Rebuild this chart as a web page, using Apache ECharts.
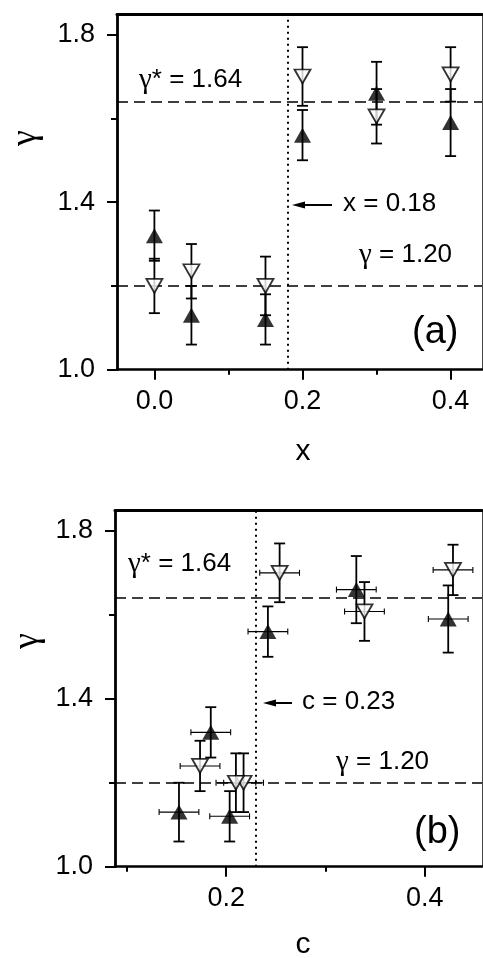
<!DOCTYPE html>
<html>
<head>
<meta charset="utf-8">
<script src="https://cdn.jsdelivr.net/npm/echarts@6/dist/echarts.min.js"></script>
<style>
  html, body { margin: 0; padding: 0; background: #fff; }
  #chart { width: 483px; height: 958px; }
</style>
</head>
<body>
<div id="chart"></div>
<script>
// ---- panel (a): gamma versus x ----
const xValues      = [0, 0.05, 0.15, 0.2, 0.3, 0.4];
const gammaFilledA = [1.32, 1.13, 1.12, 1.56, 1.66, 1.59];
const errFilledA   = [0.06, 0.07, 0.06, 0.06, 0.075, 0.08];
const gammaOpenA   = [1.20, 1.235, 1.20, 1.70, 1.605, 1.705];
const errOpenA     = [0.065, 0.065, 0.07, 0.07, 0.065, 0.065];

// ---- panel (b): gamma versus c ----
const cFilled      = [0.1845, 0.1525, 0.2035, 0.242, 0.331, 0.4235];
const cErrFilled   = [0.02, 0.02, 0.02, 0.02, 0.02, 0.02];
const gammaFilledB = [1.32, 1.13, 1.12, 1.56, 1.66, 1.59];
const errFilledB   = [0.06, 0.07, 0.06, 0.06, 0.08, 0.08];
const cOpen        = [0.2175, 0.1737, 0.2098, 0.2538, 0.3392, 0.4283];
const cErrOpen     = [0.02, 0.02, 0.02, 0.02, 0.02, 0.02];
const gammaOpenB   = [1.20, 1.24, 1.20, 1.70, 1.608, 1.707];
const errOpenB     = [0.07, 0.06, 0.07, 0.07, 0.07, 0.06];

// reference levels
const gammaStar = 1.64;
const gammaLow = 1.20;
const xCross = 0.18;
const cCross = 0.23;

// ticks
const yTicksMajor  = [1.0, 1.4, 1.8];
const yTicksMinor  = [1.2, 1.6];
const xTicksMajorA = [0.0, 0.2, 0.4];
const xTicksMinorA = [0.1, 0.3];
const xTicksMajorB = [0.2, 0.4];
const xTicksMinorB = [0.1, 0.3];

const FONT = '"Liberation Sans", Arial, Helvetica, sans-serif';
const GREEK = '"Liberation Serif", "Times New Roman", serif';
const BLACK = '#000';

const gridA = { left: 117, top: 14.5, width: 365, height: 355.2 };
const gridB = { left: 115, top: 510.7, width: 367, height: 356 };
const rangeXA = [-0.0505, 0.4424];
const rangeXB = [0.0881, 0.4575];
const rangeY = [1.0, 1.848];

function gridDef(g) {
  return Object.assign({ show: false, outerBoundsMode: 'none', containLabel: false }, g);
}

function mainXAxis(gridIndex, range, ticks) {
  return {
    type: 'value', gridIndex, position: 'bottom', min: range[0], max: range[1],
    axisLine: { show: true, onZero: false, lineStyle: { color: BLACK, width: 2.6 } },
    axisTick: { show: true, customValues: ticks, length: 10, lineStyle: { color: BLACK, width: 2 } },
    axisLabel: { show: true, customValues: ticks, margin: 18, fontSize: 27, fontFamily: FONT, color: BLACK,
                 formatter: v => Number(v).toFixed(1) },
    splitLine: { show: false }
  };
}
function topXAxis(gridIndex, range) {
  return {
    type: 'value', gridIndex, position: 'top', min: range[0], max: range[1],
    axisLine: { show: true, onZero: false, lineStyle: { color: BLACK, width: 3 } },
    axisTick: { show: false }, axisLabel: { show: false }, splitLine: { show: false }
  };
}
function minorXAxis(gridIndex, range, ticks) {
  return {
    type: 'value', gridIndex, position: 'bottom', min: range[0], max: range[1],
    axisLine: { show: false, onZero: false },
    axisTick: { show: true, customValues: ticks, length: 5, lineStyle: { color: BLACK, width: 2 } },
    axisLabel: { show: false }, splitLine: { show: false }
  };
}
function mainYAxis(gridIndex) {
  return {
    type: 'value', gridIndex, position: 'left', min: rangeY[0], max: rangeY[1],
    axisLine: { show: true, onZero: false, lineStyle: { color: BLACK, width: 2.8 } },
    axisTick: { show: true, customValues: yTicksMajor, length: 10, lineStyle: { color: BLACK, width: 2 } },
    axisLabel: { show: true, customValues: yTicksMajor, margin: 22, fontSize: 27, fontFamily: FONT, color: BLACK,
                 formatter: v => Number(v).toFixed(1) },
    splitLine: { show: false }
  };
}
function rightYAxis(gridIndex) {
  return {
    type: 'value', gridIndex, position: 'right', min: rangeY[0], max: rangeY[1],
    axisLine: { show: true, onZero: false, lineStyle: { color: '#444', width: 1 } },
    axisTick: { show: false }, axisLabel: { show: false }, splitLine: { show: false }
  };
}
function minorYAxis(gridIndex) {
  return {
    type: 'value', gridIndex, position: 'left', min: rangeY[0], max: rangeY[1],
    axisLine: { show: false, onZero: false },
    axisTick: { show: true, customValues: yTicksMinor, length: 6, lineStyle: { color: BLACK, width: 2 } },
    axisLabel: { show: false }, splitLine: { show: false }
  };
}

// error bars: [x, y, yErr, xErr]
function renderErrorBar(params, api) {
  const x = api.value(0), y = api.value(1), ey = api.value(2), ex = api.value(3);
  const style = { stroke: BLACK, lineWidth: 1.8, fill: null };
  const thin = { stroke: BLACK, lineWidth: 1.1, fill: null };
  const top = api.coord([x, y + ey]);
  const bot = api.coord([x, y - ey]);
  const cap = 5.5;
  const children = [
    { type: 'line', shape: { x1: top[0], y1: top[1], x2: bot[0], y2: bot[1] }, style },
    { type: 'line', shape: { x1: top[0] - cap, y1: top[1], x2: top[0] + cap, y2: top[1] }, style },
    { type: 'line', shape: { x1: bot[0] - cap, y1: bot[1], x2: bot[0] + cap, y2: bot[1] }, style }
  ];
  if (ex > 0) {
    const l = api.coord([x - ex, y]);
    const r = api.coord([x + ex, y]);
    const hc = 3;
    children.push(
      { type: 'line', shape: { x1: l[0], y1: l[1], x2: r[0], y2: r[1] }, style: thin },
      { type: 'line', shape: { x1: l[0], y1: l[1] - hc, x2: l[0], y2: l[1] + hc }, style: thin },
      { type: 'line', shape: { x1: r[0], y1: r[1] - hc, x2: r[0], y2: r[1] + hc }, style: thin }
    );
  }
  return { type: 'group', children };
}

const zip2 = (a, b) => a.map((v, i) => [v, b[i]]);
const zipErr = (xs, ys, eys, exs) => xs.map((v, i) => [v, ys[i], eys[i], exs ? exs[i] : 0]);

function refLines(xLevel) {
  return {
    silent: true, symbol: 'none', animation: false, z: 1,
    label: { show: false },
    data: [
      { yAxis: gammaStar, lineStyle: { color: BLACK, width: 1.6, type: [11, 6] } },
      { yAxis: gammaLow, lineStyle: { color: BLACK, width: 1.6, type: [11, 6] } },
      { xAxis: xLevel, lineStyle: { color: BLACK, width: 2, type: [2, 4] } }
    ]
  };
}

function panelSeries(axisIdx, xsF, ysF, eF, exF, xsO, ysO, eO, exO, xLevel) {
  return [
    {
      type: 'custom', xAxisIndex: axisIdx, yAxisIndex: axisIdx, renderItem: renderErrorBar,
      data: zipErr(xsF, ysF, eF, exF), encode: { x: 0, y: 1 }, z: 2, silent: true,
      markLine: refLines(xLevel)
    },
    {
      type: 'custom', xAxisIndex: axisIdx, yAxisIndex: axisIdx, renderItem: renderErrorBar,
      data: zipErr(xsO, ysO, eO, exO), encode: { x: 0, y: 1 }, z: 2, silent: true
    },
    {
      type: 'scatter', xAxisIndex: axisIdx, yAxisIndex: axisIdx, data: zip2(xsF, ysF),
      symbol: 'triangle', symbolSize: [17, 15], z: 4,
      itemStyle: { color: BLACK, borderWidth: 0 }
    },
    {
      type: 'scatter', xAxisIndex: axisIdx, yAxisIndex: axisIdx, data: zip2(xsO, ysO),
      symbol: 'triangle', symbolRotate: 180, symbolSize: [16, 14], z: 4,
      itemStyle: { color: '#fff', borderColor: BLACK, borderWidth: 1.8 }
    }
  ];
}

// annotation text; '{g|γ}' switches to the Greek face
function label(text, x, y, size) {
  return {
    type: 'text', x, y, z: 10,
    style: { text, font: size + 'px ' + FONT, fill: BLACK,
             align: 'left', textAlign: 'left', verticalAlign: 'middle', textVerticalAlign: 'middle',
             rich: { g: { fontFamily: GREEK, fontSize: size + 3, fill: BLACK, color: BLACK } } }
  };
}
function arrow(xTip, xTail, y) {
  return {
    type: 'group', z: 10, children: [
      { type: 'line', shape: { x1: xTip + 10, y1: y, x2: xTail, y2: y }, style: { stroke: BLACK, lineWidth: 2 } },
      { type: 'polygon', shape: { points: [[xTip, y], [xTip + 13, y - 3.5], [xTip + 13, y + 3.5]] }, style: { fill: BLACK } }
    ]
  };
}
function centered(text, x, y, size, family, rotation) {
  return {
    type: 'text', x, y, rotation: rotation || 0, z: 10,
    style: { text, font: size + 'px ' + family, fill: BLACK,
             align: 'center', textAlign: 'center', verticalAlign: 'middle', textVerticalAlign: 'middle' }
  };
}

const option = {
  animation: false,
  backgroundColor: '#fff',
  grid: [gridDef(gridA), gridDef(gridA), gridDef(gridB), gridDef(gridB)],
  xAxis: [
    mainXAxis(0, rangeXA, xTicksMajorA), topXAxis(0, rangeXA), minorXAxis(1, rangeXA, xTicksMinorA),
    mainXAxis(2, rangeXB, xTicksMajorB), topXAxis(2, rangeXB), minorXAxis(3, rangeXB, xTicksMinorB)
  ],
  yAxis: [
    mainYAxis(0), rightYAxis(0), minorYAxis(1),
    mainYAxis(2), rightYAxis(2), minorYAxis(3)
  ],
  series: [].concat(
    panelSeries(0, xValues, gammaFilledA, errFilledA, null, xValues, gammaOpenA, errOpenA, null, xCross),
    panelSeries(3, cFilled, gammaFilledB, errFilledB, cErrFilled, cOpen, gammaOpenB, errOpenB, cErrOpen, cCross)
  ),
  graphic: [
    // panel (a)
    label('{g|γ}* = 1.64', 139, 80, 26),
    arrow(292, 332, 205),
    label('x = 0.18', 343, 204, 26),
    label('{g|γ} = 1.20', 359, 255, 26),
    label('(a)', 412, 333, 38),
    centered('γ', 26, 138, 36, GREEK, Math.PI / 2),
    centered('x', 303, 452, 30, FONT),
    // panel (b)
    label('{g|γ}* = 1.64', 128, 564, 26),
    arrow(263, 292, 703),
    label('c = 0.23', 302, 702, 26),
    label('{g|γ} = 1.20', 336, 762, 26),
    label('(b)', 414, 833, 38),
    centered('γ', 28, 641, 36, GREEK, Math.PI / 2),
    centered('c', 303, 945, 30, FONT)
  ]
};

const chart = echarts.init(document.getElementById('chart'), null, { renderer: 'canvas' });
chart.setOption(option);
</script>
</body>
</html>
